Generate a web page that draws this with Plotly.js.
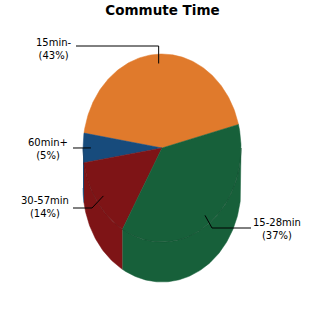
<!DOCTYPE html>
<html><head><meta charset="utf-8">
<script src="https://cdn.plot.ly/plotly-3.0.1.min.js"></script>
<style>html,body{margin:0;padding:0;background:#fff}</style></head><body>
<div id="chart" style="width:325px;height:325px"></div>
<script>
// ---- data ----
const chartTitle = 'Commute Time';
const categories = ['15min-', '60min+', '30-57min', '15-28min'];
const values = [43, 5, 14, 37];

// ---- styles / layout constants ----
const colors = ['#E07A2C', '#174B7C', '#7E1416', '#17603A'];
const cx = 162, cy = 148, rx = 79, ry = 94, depth = 40, startDeg = 14.5;
// label placement (text centre, leader elbow, leader end) in pixel space
const labelText = [[54, 49], [48, 149], [45, 207], [277, 229]];
const labelElbow = [[null, 46], [null, 148], [92, 208], [212, 228]];
const labelEnd = [[76, 46], [73, 148], [73, 208], [251, 228]];

const total = values.reduce((a, b) => a + b, 0);
const rad = d => d * Math.PI / 180;
const pt = (deg, f = 1, dy = 0) => [cx + rx * f * Math.cos(rad(deg)), cy - ry * f * Math.sin(rad(deg)) + dy];

function arc(a0, a1, dy) {
  const xs = [], ys = [];
  const n = Math.max(2, Math.ceil(Math.abs(a1 - a0)));
  for (let i = 0; i <= n; i++) {
    const p = pt(a0 + (a1 - a0) * i / n, 1, dy);
    xs.push(p[0]); ys.push(p[1]);
  }
  return [xs, ys];
}

const traces = [];
const bounds = [];
let a = startDeg;
values.forEach(v => { const s = v / total * 360; bounds.push([a, a + s]); a += s; });

// side walls
bounds.forEach(([a0, a1], i) => {
  [0, 360].forEach(k => {
    const lo = Math.max(a0, 180 + k), hi = Math.min(a1, 360 + k);
    if (hi > lo) {
      const [tx, ty] = arc(lo, hi, 0);
      const [bx, by] = arc(hi, lo, depth);
      traces.push({x: tx.concat(bx), y: ty.concat(by), mode: 'lines', fill: 'toself',
        fillcolor: colors[i], line: {color: colors[i], width: 0.5}, hoverinfo: 'skip'});
    }
  });
});
// top faces
bounds.forEach(([a0, a1], i) => {
  const [xs, ys] = arc(a0, a1, 0);
  traces.push({x: [cx].concat(xs, [cx]), y: [cy].concat(ys, [cy]), mode: 'lines', fill: 'toself',
    fillcolor: colors[i], line: {color: colors[i], width: 0.5}, hoverinfo: 'skip'});
});
// faint rim of top face
{
  const [xs, ys] = arc(180, 360, 0);
  traces.push({x: xs, y: ys, mode: 'lines', line: {color: 'rgba(0,0,0,0.13)', width: 1}, hoverinfo: 'skip'});
}
// leaders
const annotations = [];
bounds.forEach(([a0, a1], i) => {
  const mid = (a0 + a1) / 2;
  const anc = pt(mid, 0.9);
  const el = [labelElbow[i][0] === null ? anc[0] : labelElbow[i][0], labelElbow[i][1]];
  traces.push({x: [anc[0], el[0], labelEnd[i][0]], y: [anc[1], el[1], labelEnd[i][1]], mode: 'lines',
    line: {color: '#000', width: 1}, hoverinfo: 'skip'});
  const pct = Math.round(values[i] / total * 100);
  annotations.push({x: labelText[i][0], y: labelText[i][1], xref: 'x', yref: 'y', showarrow: false,
    text: categories[i] + '<br>(' + pct + '%)', align: 'center',
    font: {family: 'DejaVu Sans', size: 10, color: '#000'}});
});

const layout = {
  width: 325, height: 325, margin: {l: 0, r: 0, t: 0, b: 0},
  paper_bgcolor: '#fff', plot_bgcolor: '#fff', showlegend: false, hovermode: false,
  title: {text: '<b>' + chartTitle + '</b>', x: 0.5, xanchor: 'center', y: 1 - 10 / 325, yanchor: 'middle',
    font: {family: 'DejaVu Sans', size: 13.5, color: '#000'}},
  xaxis: {range: [0, 325], visible: false, fixedrange: true},
  yaxis: {range: [325, 0], visible: false, fixedrange: true},
  annotations: annotations
};
Plotly.newPlot('chart', traces, layout, {staticPlot: true, displayModeBar: false});
</script></body></html>
